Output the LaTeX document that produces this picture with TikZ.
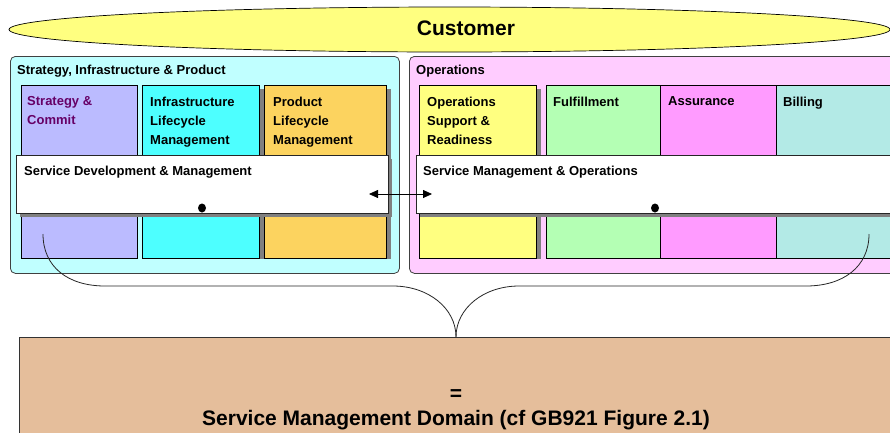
\documentclass[tikz,border=0pt]{standalone}
\usepackage{fontspec}
\setmainfont{Liberation Sans}
\usetikzlibrary{arrows.meta,shapes.geometric,calc,shadows}

\definecolor{custfill}{HTML}{FFFF80}
\definecolor{sipfill}{HTML}{C0FFFF}
\definecolor{opsfill}{HTML}{FFCCFF}
\definecolor{stratfill}{HTML}{BBBBFF}
\definecolor{infrafill}{HTML}{4DFFFF}
\definecolor{prodfill}{HTML}{FCD35F}
\definecolor{osrfill}{HTML}{FFFF80}
\definecolor{fulfill}{HTML}{B4FFB4}
\definecolor{assfill}{HTML}{FF9BFF}
\definecolor{billfill}{HTML}{B3EAE6}
\definecolor{domfill}{HTML}{E5BE9B}
\definecolor{shadowgray}{HTML}{808080}
\definecolor{panelline}{HTML}{404040}
\definecolor{strattext}{HTML}{660066}

\begin{document}
\begin{tikzpicture}[x=1pt,y=-1pt,
  panel/.style={draw=panelline, line width=0.8pt, rounded corners=5pt,
    inner sep=0, anchor=north west},
  colbox/.style={draw=black, line width=0.7pt, inner sep=0,
    anchor=north west, minimum height=173},
  band/.style={draw=black!85, line width=0.7pt, fill=white, inner sep=0,
    anchor=north west, minimum height=58,
    drop shadow={shadow xshift=4pt, shadow yshift=-4pt, fill=shadowgray, opacity=1}},
  lbl/.style={font=\fontsize{13}{19}\selectfont\bfseries, align=left,
    inner sep=0, anchor=north west},
  title/.style={font=\fontsize{13}{16}\selectfont\bfseries, inner sep=0,
    anchor=base west},
  big/.style={font=\fontsize{21}{25}\selectfont\bfseries, inner sep=0,
    anchor=base},
  dot/.style={ellipse, fill=black, minimum width=8, minimum height=9, inner sep=0},
  brace/.style={draw=black!85, line width=0.8pt},
]
\clip (0,0) rectangle (890,432);
\fill[white] (0,0) rectangle (890,432);

% customer ellipse
\node[ellipse, draw=black, line width=0.7pt, fill=custfill,
  minimum width=881, minimum height=45, inner sep=0] (cust) at (449.5,29.5) {};
\node[big] (custtext) at (466,35) {Customer};

% the two process groupings
\node[panel, fill=sipfill, minimum width=389, minimum height=217] (sip) at (10,56) {};
\node[panel, fill=opsfill, minimum width=490, minimum height=217] (ops) at (409,56) {};
\node[title] (siptitle) at (17,74) {Strategy, Infrastructure \& Product};
\node[title] (opstitle) at (416,74) {Operations};

% vertical process columns
\node[colbox, fill=stratfill, minimum width=116] (strat) at (21,85) {};
\node[colbox, fill=infrafill, minimum width=117] (infra) at (142,85) {};
\node[colbox, fill=prodfill, minimum width=122] (prod) at (264,85) {};
\node[colbox, fill=osrfill, minimum width=117] (osr) at (419,85) {};
\node[colbox, fill=fulfill, minimum width=114] (ful) at (546,85) {};
\node[colbox, fill=assfill, minimum width=116] (ass) at (660,85) {};
\node[colbox, fill=billfill, minimum width=130] (bill) at (776,85) {};
\foreach \n in {infra,prod,osr}
  \fill[shadowgray] ($(\n.north east)+(0.4,4)$) rectangle ($(\n.south east)+(4,0)$);

\node[lbl, text=strattext] (stratlbl) at (27,96.5) {Strategy \&\\Commit};
\node[lbl] (infralbl) at (150,96.5) {Infrastructure\\Lifecycle\\Management};
\node[lbl] (prodlbl) at (273,96.5) {Product\\Lifecycle\\Management};
\node[lbl] (osrlbl) at (427,96.5) {Operations\\Support \&\\Readiness};
\node[lbl] (fullbl) at (553,96.5) {Fulfillment};
\node[lbl] (asslbl) at (668,96.5) {Assurance};
\node[lbl] (billlbl) at (783,96.5) {Billing};

% horizontal management layers
\node[band, minimum width=372] (sdm) at (16,155) {};
\node[band, minimum width=480] (smo) at (416,155) {};
\node[title] (sdmlbl) at (24,175.5) {Service Development \& Management};
\node[title] (smolbl) at (423,175.5) {Service Management \& Operations};

\node[dot] (dotL) at (202,208) {};
\node[dot] (dotR) at (655,208) {};

\coordinate (arrL) at (369,194);
\coordinate (arrR) at (432,194);
\draw[line width=0.8pt, {Triangle[length=9pt,width=8pt]}-{Triangle[length=9pt,width=8pt]}]
  (arrL) -- (arrR);

% domain box
\node[draw=black!80, line width=0.8pt, fill=domfill, inner sep=0, anchor=north west,
  minimum width=880, minimum height=110] (dom) at (19,337) {};
\node[big] (eq) at (456,400.5) {=};
\node[big] (domlbl) at (456,425.5) {Service Management Domain (cf GB921 Figure 2.1)};

% brace gathering both groupings into the domain
\coordinate (braceL) at (43,234);
\coordinate (braceR) at (869,234);
\coordinate (apex) at (456,337);
\draw[brace] (braceL) .. controls (43,267) and (68,286) .. (105,286) -- (393,286)
  .. controls (428,286) and (456,308) .. (apex);
\draw[brace] (apex) .. controls (456,308) and (484,286) .. (519,286) -- (806,286)
  .. controls (843,286) and (869,267) .. (braceR);
\end{tikzpicture}
\end{document}
